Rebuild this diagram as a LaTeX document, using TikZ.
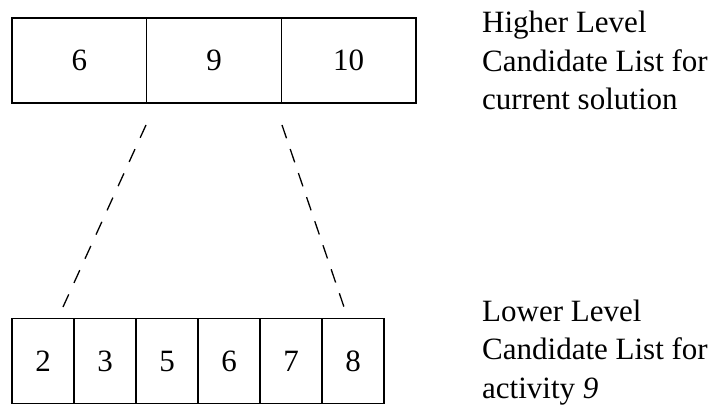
\documentclass[tikz,border=0pt]{standalone}
\usepackage{fontspec}
\setmainfont{Liberation Serif}

\begin{document}
\begin{tikzpicture}[x=1pt,y=-1pt,
  cell/.style={draw,line width=1.4pt,minimum height=85pt,inner sep=0pt,font=\fontsize{31}{38}\selectfont},
  hicell/.style={cell,minimum width=134.7pt},
  locell/.style={cell,minimum width=62pt},
  guide/.style={line width=1.3pt,dash pattern=on 14pt off #1},
  listnote/.style={align=left,anchor=north west,inner sep=0pt,font=\fontsize{31}{38.5}\selectfont}]
\useasboundingbox (0,0) rectangle (712,406);

\node[hicell] (h1) at (79.3,60.5) {6};
\node[hicell] (h2) at (214,60.5) {9};
\node[hicell] (h3) at (348.7,60.5) {10};

\foreach \v [count=\i] in {2,3,5,6,7,8}
  \node[locell] (l\i) at ({43+62*(\i-1)},361) {\v};

\coordinate (hL) at (146,125);
\coordinate (hR) at (282,125);
\coordinate (lL) at (63,307);
\coordinate (lR) at (344,307);
\draw[guide=12.6pt] (hL) -- (lL);
\draw[guide=11.4pt] (hR) -- (lR);

\node[listnote] (hinote) at (482,11) {Higher Level\\Candidate List for\\current solution};
\node[listnote] (lonote) at (482,299.5) {Lower Level\\Candidate List for\\activity \textit{9}};
\end{tikzpicture}
\end{document}
